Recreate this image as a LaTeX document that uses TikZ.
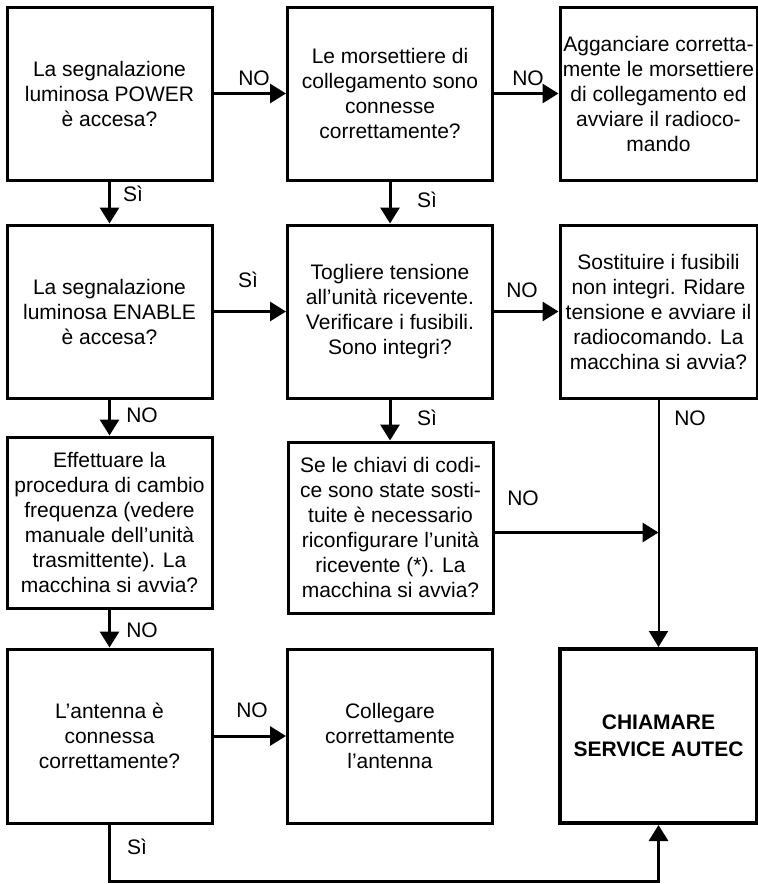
\documentclass[tikz,border=0pt]{standalone}
\usepackage{fontspec}
\setmainfont{Liberation Sans}
\usetikzlibrary{arrows.meta}
\tikzstyle{box}=[rectangle, draw, line width=3pt, inner sep=0pt, align=center, minimum width=205pt, minimum height=173pt, font=\fontsize{21}{25}\selectfont]
\tikzstyle{side}=[box, minimum width=197pt]
\tikzstyle{lab}=[inner sep=0pt, font=\fontsize{21}{25}\selectfont]
\tikzstyle{edge}=[line width=3pt, -{Triangle[length=16pt,width=19pt]}]

\begin{document}
\begin{tikzpicture}[x=1pt, y=-1pt]
				\useasboundingbox (0,0) rectangle (758,884);

				%The first row
				\draw (109.5,93.5) node[box] (power) {La segnalazione\\luminosa POWER\\è accesa?};
				\draw (390,93.5) node[box] (morse) {Le morsettiere di\\collegamento sono\\connesse\\correttamente?};
				\draw (658.5,93.5) node[side] (aggancia) {Agganciare corretta-\\mente le morsettiere\\di collegamento ed\\avviare il radioco-\\mando};

				%The second row
				\draw (109.5,311.5) node[box] (enable) {La segnalazione\\luminosa ENABLE\\è accesa?};
				\draw (390,311.5) node[box] (tensione) {Togliere tensione\\all’unità ricevente.\\Verificare i fusibili.\\Sono integri?};
				\draw (658.5,311.5) node[side] (fusibili) {Sostituire i fusibili\\non integri. Ridare\\tensione e avviare il\\radiocomando. La\\macchina si avvia?};

				%The third row
				\draw (109.5,522.5) node[box, minimum height=171pt] (cambio) {Effettuare la\\procedura di cambio\\frequenza (vedere\\manuale dell’unità\\trasmittente). La\\macchina si avvia?};
				\draw (390.5,527.5) node[box, minimum height=171pt] (chiavi) {Se le chiavi di codi-\\ce sono state sosti-\\tuite è necessario\\riconfigurare l’unità\\ricevente (*). La\\macchina si avvia?};

				%The last row
				\draw (109.5,736) node[box, minimum height=174pt] (antenna) {L’antenna è\\connessa\\correttamente?};
				\draw (390,736) node[box, minimum height=174pt] (collega) {Collegare\\correttamente\\l’antenna};
				\draw (658.5,736) node[side, line width=4pt, minimum height=174pt, font=\bfseries\fontsize{21}{27}\selectfont] (autec) {CHIAMARE\\SERVICE AUTEC};

				%The answers
				\draw (254,78) node[lab] (no1) {NO};
				\draw (528,78) node[lab] (no2) {NO};
				\draw (133,194) node[lab] (si1) {Sì};
				\draw (427,200) node[lab] (si2) {Sì};
				\draw (248,280) node[lab] (si3) {Sì};
				\draw (522,290) node[lab] (no3) {NO};
				\draw (142,415) node[lab] (no4) {NO};
				\draw (427,418) node[lab] (si4) {Sì};
				\draw (690,418) node[lab] (no5) {NO};
				\draw (523,498) node[lab] (no6) {NO};
				\draw (142,630) node[lab] (no7) {NO};
				\draw (252,710) node[lab] (no8) {NO};
				\draw (137,847) node[lab] (si5) {Sì};

				\draw[edge] (power) -- (morse);
				\draw[edge] (morse) -- (aggancia);
				\draw[edge] (power) -- (enable);
				\draw[edge] (morse) -- (tensione);
				\draw[edge] (enable) -- (tensione);
				\draw[edge] (tensione) -- (fusibili);
				\draw[edge] (enable) -- (cambio);
				\draw[edge] (tensione.south) -- (tensione.south |- chiavi.north);
				\draw[edge, line width=2pt] (fusibili) -- (autec);
				\draw[edge] ([yshift=-5pt]chiavi.east) -- ([yshift=-5pt]chiavi.east -| fusibili.south);
				\draw[edge] (cambio) -- (antenna);
				\draw[edge] (antenna) -- (collega);
				\draw[edge] (antenna.south) -- ++(0,57) -| (autec.south);
			\end{tikzpicture}
\end{document}
